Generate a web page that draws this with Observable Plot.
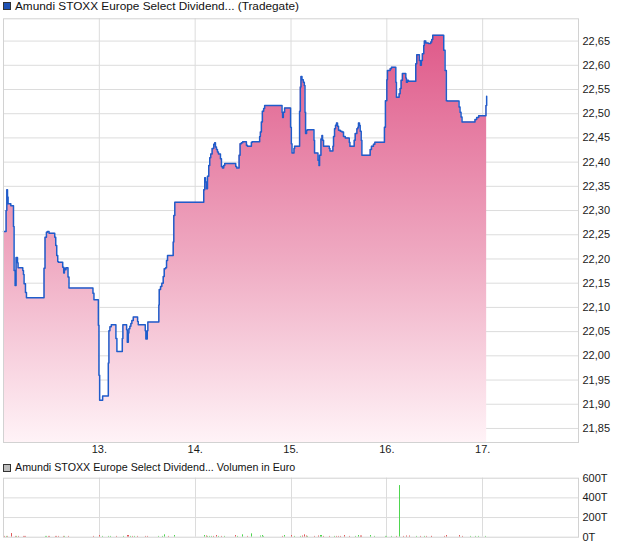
<!DOCTYPE html>
<html>
<head>
<meta charset="utf-8">
<script src="https://cdn.jsdelivr.net/npm/d3@7"></script>
<script src="https://cdn.jsdelivr.net/npm/@observablehq/plot@0.6"></script>
<style>
  html, body { margin: 0; padding: 0; background: #fff; }
  #wrap { position: relative; width: 620px; height: 546px; overflow: hidden; font-family: "Liberation Sans", Arial, sans-serif; color: #111; }
  .lg { position: absolute; left: 0; line-height: 12px; white-space: nowrap; z-index: 5; }
  .sq { position: absolute; left: 3px; width: 6px; height: 6px; border: 1px solid #333; }
  .lt { position: absolute; left: 15px; top: 0; }
  .chart { position: absolute; left: 0; }
</style>
</head>
<body>
<div id="wrap">
  <div class="lg" style="top:0px;font-size:11.8px;"><span class="sq" style="top:2px;background:#1f52b4;"></span><span class="lt" id="t1"></span></div>
  <div class="chart" id="main" style="top:17px;"></div>
  <div class="chart" id="vol" style="top:470px;"></div>
  <div class="lg" style="top:461px;font-size:10.7px;"><span class="sq" style="top:3px;background:#bdbdbd;"></span><span class="lt" id="t2"></span></div>
</div>
<script>
// ---------- data ----------
const seriesTitle = "Amundi STOXX Europe Select Dividend... (Tradegate)";
const volumeTitle = "Amundi STOXX Europe Select Dividend... Volumen in Euro";

// time in hours since 12th 00:00 (chart time axis), price in EUR
const priceHours = [
  0,0.65,0.83,1.0,1.15,1.83,2.5,2.65,2.9,3.15,3.5,3.65,
  4.83,5.0,5.15,5.5,5.75,
  10.15,10.4,10.75,11.0,11.4,12.83,13.08,13.33,13.58,13.75,14.83,15.08,15.25,15.4,15.65,16.15,16.4,
  22.4,22.65,23.75,23.9,24.08,
  24.83,26.25,26.4,26.65,27.0,28.15,28.4,29.75,29.9,30.83,31.0,31.25,31.4,31.65,31.9,32.15,32.5,33.58,33.75,35.5,35.65,36.0,36.15,
  38.9,39.0,39.33,39.65,40.0,40.25,40.58,40.83,41.08,42.5,42.65,42.9,
  50.15,50.4,50.58,50.83,51.08,51.4,51.65,51.9,52.25,52.65,52.9,53.08,53.33,53.58,53.83,54.33,54.58,54.83,55.15,55.4,
  58.15,58.4,59.0,59.25,59.58,59.9,60.83,61.08,62.08,62.33,64.15,64.33,64.58,64.83,65.15,65.4,
  69.75,69.9,70.08,70.4,71.9,72.08,72.25,72.75,72.9,
  74.15,74.33,74.5,74.75,75.08,75.33,75.5,75.65,75.9,76.15,
  77.75,77.9,78.75,79.0,79.15,79.5,79.75,79.9,80.15,81.58,81.75,82.5,82.65,82.9,83.15,83.4,83.65,83.9,84.33,84.75,85.15,85.58,86.58,86.75,
  87.83,88.08,88.5,88.75,88.9,89.15,89.33,89.58,89.75,
  91.83,92.15,92.65,93.0,
  95.4,95.65,96.0,96.15,96.83,97.15,98.25,98.4,99.08,99.33,99.58,99.9,100.75,100.9,101.15,101.4,
  103.25,103.5,104.15,104.4,104.65,104.9,105.25,105.4,105.75,106.4,107.0,107.25,107.5,
  110.25,110.58,110.9,111.15,
  114.08,114.33,114.58,114.83,
  118.08,118.5,119.0,120.83,121.0
];
const prices = [
  22.257,22.300,22.343,22.328,22.314,22.310,22.267,22.176,22.145,22.203,22.192,22.182,
  22.176,22.168,22.149,22.131,22.120,
  22.181,22.245,22.255,22.257,22.253,22.245,22.228,22.207,22.195,22.193,22.183,22.171,22.181,22.178,22.182,22.163,22.140,
  22.129,22.116,22.063,21.960,21.908,
  21.917,21.985,22.052,22.060,22.064,22.036,22.009,22.036,22.064,22.054,22.028,22.047,22.056,22.061,22.067,22.073,22.080,22.071,22.064,22.052,22.035,22.052,22.070,
  22.105,22.137,22.143,22.150,22.164,22.180,22.182,22.197,22.207,22.235,22.290,22.317,
  22.343,22.368,22.359,22.345,22.371,22.393,22.409,22.417,22.428,22.437,22.440,22.431,22.426,22.421,22.417,22.407,22.391,22.388,22.393,22.397,
  22.391,22.388,22.414,22.438,22.440,22.442,22.435,22.433,22.441,22.442,22.453,22.462,22.483,22.505,22.511,22.517,
  22.503,22.492,22.503,22.512,22.472,22.438,22.419,22.428,22.433,
  22.505,22.555,22.577,22.570,22.565,22.558,22.503,22.459,22.466,22.467,
  22.445,22.419,22.404,22.393,22.414,22.448,22.455,22.445,22.433,22.428,22.423,22.433,22.453,22.469,22.476,22.481,22.474,22.466,22.464,22.462,22.453,22.450,22.441,22.433,
  22.445,22.459,22.469,22.472,22.481,22.476,22.464,22.445,22.414,
  22.426,22.433,22.437,22.441,
  22.472,22.527,22.570,22.589,22.593,22.596,22.565,22.534,22.541,22.552,22.569,22.583,22.574,22.565,22.569,22.567,
  22.603,22.622,22.610,22.600,22.610,22.624,22.641,22.650,22.646,22.645,22.648,22.653,22.662,
  22.631,22.589,22.527,22.526,
  22.514,22.503,22.493,22.483,
  22.488,22.492,22.496,22.517,22.536
];

// volume (EUR) per trade, direction +1 up / -1 down
const volHours = [
  0.15,0.65,1.0,1.9,2.9,3.15,3.65,4.9,5.33,5.58,
  10.4,10.75,11.15,11.5,12.9,13.33,13.65,15.08,15.33,16.4,
  22.65,24.08,24.75,26.4,26.83,28.33,30.0,31.15,31.4,31.83,32.4,32.9,33.65,35.65,36.15,38.9,39.75,40.33,41.25,42.83,
  50.33,50.75,51.15,51.65,52.08,52.65,53.33,53.9,54.5,55.4,58.08,58.65,59.83,61.0,
  62.08,64.33,64.75,65.15,69.9,70.4,72.08,72.9,74.33,74.9,75.4,75.83,76.25,77.83,78.9,79.4,79.75,80.15,81.58,82.9,83.5,83.9,84.33,85.4,86.58,88.08,88.9,89.33,89.58,91.83,92.9,
  95.58,96.0,97.08,98.33,99.15,100.15,101.0,101.58,103.5,104.33,105.33,106.0,107.08,107.25,110.4,111.0,114.15,114.9,116.83,118.08,119.08,120.75
];
const volValues = [
  8,8,8,37,8,8,8,8,8,8,
  8,8,8,8,8,8,8,8,8,8,
  8,17,8,8,8,8,8,17,17,8,8,8,8,8,8,8,8,24,8,17,
  17,12,8,8,8,8,17,8,8,8,17,8,24,8,
  34,12,17,8,8,17,17,8,8,12,24,12,8,8,12,17,17,8,8,8,8,8,8,17,8,8,17,12,12,17,8,
  8,8,8,8,525,8,12,12,8,8,8,8,8,8,8,17,17,8,8,8,8,8
].map(v => v * 1000);
const volDir = [
  -1,1,-1,-1,-1,1,-1,-1,-1,-1,
  1,1,-1,-1,-1,-1,-1,-1,1,-1,
  -1,-1,1,1,1,-1,1,-1,-1,1,-1,1,-1,-1,-1,1,1,1,-1,1,
  1,-1,1,1,1,-1,-1,1,-1,1,-1,1,1,-1,
  1,1,1,1,-1,1,-1,1,1,-1,-1,-1,1,-1,-1,1,1,-1,-1,1,-1,-1,-1,-1,-1,1,1,-1,-1,1,1,
  1,1,1,-1,1,-1,-1,-1,1,-1,1,-1,-1,-1,-1,-1,-1,-1,1,1,1,1
];

// axes
const priceTicks = [21.85,21.90,21.95,22.00,22.05,22.10,22.15,22.20,22.25,22.30,22.35,22.40,22.45,22.50,22.55,22.60,22.65];
const dayTicks = [24, 48, 72, 96, 120];
const dayLabels = ["13.", "14.", "15.", "16.", "17."];
const volTicks = [0, 200000, 400000, 600000];
const volTickLabels = ["0T", "200T", "400T", "600T"];
const xDomain = [0, 144];
const priceDomain = [21.821, 22.696];
const volDomain = [0, 600000];

if (priceHours.length !== prices.length) throw new Error("price length mismatch " + priceHours.length + " vs " + prices.length);
if (volHours.length !== volValues.length || volHours.length !== volDir.length) throw new Error("vol length mismatch " + volHours.length + " " + volValues.length + " " + volDir.length);

// ---------- build ----------
document.getElementById("t1").textContent = seriesTitle;
document.getElementById("t2").textContent = volumeTitle;

const series = priceHours.map((t, i) => ({t, p: prices[i]}));
const vols = volHours.map((t, i) => ({t, v: volValues[i], d: volDir[i]}));

const gridColor = "#dcdcdc";
const frameColor = "#d2d2d2";
const font = {fontFamily: "'Liberation Sans', Arial, sans-serif", fontSize: "11px", color: "#1a1a1a", background: "transparent", overflow: "visible"};

const defs = () => {
  const d = d3.create("svg:defs");
  const g = d.append("linearGradient").attr("id", "pinkGrad").attr("x1", 0).attr("y1", 0).attr("x2", 0).attr("y2", 1);
  g.append("stop").attr("offset", "0%").attr("stop-color", "#df5a8a");
  g.append("stop").attr("offset", "55%").attr("stop-color", "#efaac2");
  g.append("stop").attr("offset", "100%").attr("stop-color", "#fff3f7");
  return d.node();
};

const main = Plot.plot({
  width: 620, height: 446,
  marginTop: 1.3, marginBottom: 21, marginLeft: 3, marginRight: 42,
  style: font,
  x: {domain: xDomain},
  y: {domain: priceDomain},
  marks: [
    defs,
    Plot.gridY(priceTicks, {stroke: gridColor, strokeOpacity: 1}),
    Plot.gridX(dayTicks, {stroke: gridColor, strokeOpacity: 1}),
    Plot.areaY(series, {x: "t", y1: () => priceDomain[0], y2: "p", curve: "step-after", fill: "url(#pinkGrad)"}),
    Plot.line(series, {x: "t", y: "p", curve: "step-after", stroke: "#1f5ccb", strokeWidth: 1.5}),
    Plot.frame({stroke: frameColor}),
    Plot.axisY(priceTicks, {anchor: "right", tickSize: 0, tickPadding: 4, label: null,
      tickFormat: d => d.toFixed(2).replace(".", ",")}),
    Plot.axisX(dayTicks, {anchor: "bottom", tickSize: 0, tickPadding: 3, label: null,
      tickFormat: d => dayLabels[dayTicks.indexOf(d)]})
  ]
});
document.getElementById("main").appendChild(main);

const vol = Plot.plot({
  width: 620, height: 76,
  marginTop: 7.7, marginBottom: 9.3, marginLeft: 3, marginRight: 42,
  style: font,
  x: {domain: xDomain, round: true, axis: null},
  y: {domain: volDomain},
  marks: [
    Plot.gridY(volTicks.slice(1, 3), {stroke: gridColor, strokeOpacity: 1}),
    Plot.gridX(dayTicks, {stroke: gridColor, strokeOpacity: 1}),
    Plot.ruleX(vols.filter(d => d.d < 0), {x: "t", y1: () => 0, y2: "v", stroke: "#e05a5a", strokeWidth: 1}),
    Plot.ruleX(vols.filter(d => d.d > 0), {x: "t", y1: () => 0, y2: "v", stroke: "#4fd64f", strokeWidth: 1}),
    Plot.frame({stroke: frameColor}),
    Plot.axisY(volTicks, {anchor: "right", tickSize: 0, tickPadding: 4, label: null,
      tickFormat: d => volTickLabels[volTicks.indexOf(d)]})
  ]
});
document.getElementById("vol").appendChild(vol);
</script>
</body>
</html>
